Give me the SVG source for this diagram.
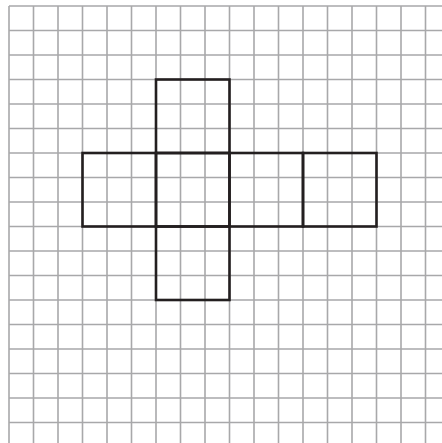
<svg xmlns="http://www.w3.org/2000/svg" width="442" height="443" viewBox="0 0 442 443">
<style>
.grid{stroke:#a8a8aa;stroke-width:1.6;fill:none}
.face{fill:none;stroke:#231f20;stroke-width:2.6;stroke-linejoin:miter}
</style>
<rect width="442" height="443" fill="#ffffff"/>
<g id="grid">
<path class="grid" d="M9,6V443M33.5,6V443M58,6V443M82.5,6V443M107,6V443M131.5,6V443M156,6V443M180.5,6V443M205,6V443M229.5,6V443M254,6V443M278.5,6V443M303,6V443M327.5,6V443M352,6V443M376.5,6V443M401,6V443M425.5,6V443
M9,6H442M9,30.5H442M9,55H442M9,79.5H442M9,104H442M9,128.5H442M9,153H442M9,177.5H442M9,202H442M9,226.5H442M9,251H442M9,275.5H442M9,300H442M9,324.5H442M9,349H442M9,373.5H442M9,398H442M9,422.5H442"/>
</g>
<g id="face-top"><rect class="face" x="156" y="79.5" width="73.5" height="73.5"/></g>
<g id="face-left"><rect class="face" x="82.5" y="153" width="73.5" height="73.5"/></g>
<g id="face-center"><rect class="face" x="156" y="153" width="73.5" height="73.5"/></g>
<g id="face-right"><rect class="face" x="229.5" y="153" width="73.5" height="73.5"/></g>
<g id="face-far-right"><rect class="face" x="303" y="153" width="73.5" height="73.5"/></g>
<g id="face-bottom"><rect class="face" x="156" y="226.5" width="73.5" height="73.5"/></g>
<g id="connectors"></g>
</svg>
